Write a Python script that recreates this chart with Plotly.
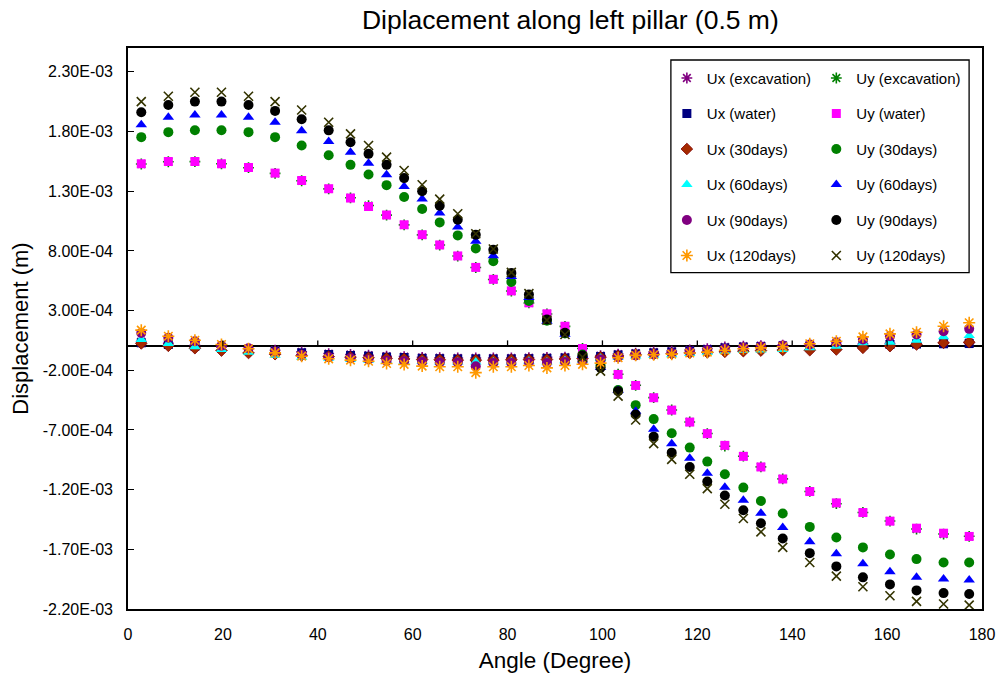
import plotly.graph_objects as go

# ---------------- data ----------------
ANGLE = [2.8, 8.5, 14.1, 19.7, 25.4, 31.0, 36.6, 42.3,
         46.9, 50.7, 54.5, 58.2, 62.0, 65.7, 69.5, 73.3, 77.0, 80.8, 84.5, 88.3,
         92.1, 95.8, 99.6, 103.3, 107.0, 110.8, 114.6, 118.4, 122.1, 125.8, 129.7, 133.4,
         138.0, 143.7, 149.3, 154.9, 160.6, 166.2, 171.9, 177.3]

UX_EXC = [0.040e-3, 0.025e-3, 0.010e-3, -0.004e-3, -0.018e-3, -0.032e-3, -0.046e-3, -0.060e-3,
          -0.068e-3, -0.074e-3, -0.082e-3, -0.085e-3, -0.092e-3, -0.095e-3, -0.097e-3, -0.097e-3,
          -0.097e-3, -0.097e-3, -0.095e-3, -0.092e-3, -0.089e-3, -0.085e-3, -0.077e-3, -0.064e-3,
          -0.056e-3, -0.047e-3, -0.039e-3, -0.030e-3, -0.018e-3, -0.005e-3, 0.002e-3, 0.007e-3,
          0.010e-3, 0.010e-3, 0.016e-3, 0.020e-3, 0.024e-3, 0.028e-3, 0.030e-3, 0.032e-3]
UY_EXC = [1.528e-3, 1.547e-3, 1.548e-3, 1.530e-3, 1.497e-3, 1.450e-3, 1.388e-3, 1.320e-3,
          1.245e-3, 1.180e-3, 1.100e-3, 1.018e-3, 0.934e-3, 0.849e-3, 0.757e-3, 0.661e-3,
          0.561e-3, 0.464e-3, 0.364e-3, 0.272e-3, 0.168e-3, -0.017e-3, -0.117e-3, -0.233e-3,
          -0.326e-3, -0.429e-3, -0.533e-3, -0.633e-3, -0.730e-3, -0.836e-3, -0.920e-3, -1.009e-3,
          -1.110e-3, -1.215e-3, -1.318e-3, -1.391e-3, -1.463e-3, -1.530e-3, -1.572e-3, -1.591e-3]
UX_WATER = [0.030e-3, 0.016e-3, 0.002e-3, -0.012e-3, -0.026e-3, -0.040e-3, -0.054e-3, -0.068e-3,
            -0.076e-3, -0.082e-3, -0.090e-3, -0.093e-3, -0.100e-3, -0.103e-3, -0.105e-3, -0.105e-3,
            -0.105e-3, -0.105e-3, -0.103e-3, -0.100e-3, -0.097e-3, -0.093e-3, -0.085e-3, -0.072e-3,
            -0.064e-3, -0.055e-3, -0.047e-3, -0.038e-3, -0.026e-3, -0.013e-3, -0.006e-3, -0.001e-3,
            0.002e-3, 0.002e-3, 0.008e-3, 0.012e-3, 0.016e-3, 0.020e-3, 0.022e-3, 0.024e-3]
UY_WATER = [1.530e-3, 1.549e-3, 1.549e-3, 1.530e-3, 1.499e-3, 1.452e-3, 1.390e-3, 1.321e-3,
            1.243e-3, 1.172e-3, 1.101e-3, 1.019e-3, 0.936e-3, 0.850e-3, 0.758e-3, 0.662e-3,
            0.562e-3, 0.465e-3, 0.365e-3, 0.273e-3, 0.169e-3, -0.018e-3, -0.118e-3, -0.235e-3,
            -0.327e-3, -0.430e-3, -0.534e-3, -0.634e-3, -0.731e-3, -0.829e-3, -0.921e-3, -1.010e-3,
            -1.111e-3, -1.216e-3, -1.311e-3, -1.392e-3, -1.464e-3, -1.523e-3, -1.565e-3, -1.592e-3]
UX_30 = [0.025e-3, 0.005e-3, -0.015e-3, -0.035e-3, -0.055e-3, -0.065e-3, -0.075e-3, -0.085e-3,
         -0.090e-3, -0.095e-3, -0.100e-3, -0.105e-3, -0.110e-3, -0.112e-3, -0.115e-3, -0.115e-3,
         -0.115e-3, -0.112e-3, -0.110e-3, -0.110e-3, -0.105e-3, -0.100e-3, -0.090e-3, -0.080e-3,
         -0.070e-3, -0.065e-3, -0.060e-3, -0.055e-3, -0.050e-3, -0.045e-3, -0.040e-3, -0.035e-3,
         -0.030e-3, -0.032e-3, -0.026e-3, -0.012e-3, 0.002e-3, 0.016e-3, 0.030e-3, 0.035e-3]
UY_30 = [1.753e-3, 1.795e-3, 1.811e-3, 1.811e-3, 1.795e-3, 1.753e-3, 1.683e-3, 1.602e-3,
         1.521e-3, 1.440e-3, 1.351e-3, 1.251e-3, 1.151e-3, 1.039e-3, 0.930e-3, 0.821e-3,
         0.713e-3, 0.540e-3, 0.380e-3, 0.215e-3, 0.108e-3, -0.068e-3, -0.160e-3, -0.366e-3,
         -0.492e-3, -0.609e-3, -0.728e-3, -0.848e-3, -0.965e-3, -1.071e-3, -1.183e-3, -1.295e-3,
         -1.400e-3, -1.512e-3, -1.601e-3, -1.684e-3, -1.743e-3, -1.782e-3, -1.810e-3, -1.810e-3]
UX_60 = [0.058e-3, 0.024e-3, -0.003e-3, -0.026e-3, -0.048e-3, -0.075e-3, -0.090e-3, -0.100e-3,
         -0.110e-3, -0.115e-3, -0.120e-3, -0.125e-3, -0.125e-3, -0.130e-3, -0.130e-3, -0.130e-3,
         -0.130e-3, -0.130e-3, -0.125e-3, -0.130e-3, -0.120e-3, -0.115e-3, -0.100e-3, -0.090e-3,
         -0.080e-3, -0.075e-3, -0.070e-3, -0.060e-3, -0.050e-3, -0.040e-3, -0.035e-3, -0.030e-3,
         -0.026e-3, -0.012e-3, 0.002e-3, 0.030e-3, 0.035e-3, 0.052e-3, 0.080e-3, 0.091e-3]
UY_60 = [1.856e-3, 1.920e-3, 1.939e-3, 1.939e-3, 1.920e-3, 1.878e-3, 1.806e-3, 1.716e-3,
         1.627e-3, 1.535e-3, 1.438e-3, 1.340e-3, 1.234e-3, 1.117e-3, 1.000e-3, 0.880e-3,
         0.760e-3, 0.585e-3, 0.409e-3, 0.210e-3, 0.102e-3, -0.076e-3, -0.176e-3, -0.369e-3,
         -0.544e-3, -0.695e-3, -0.815e-3, -0.937e-3, -1.063e-3, -1.180e-3, -1.289e-3, -1.397e-3,
         -1.517e-3, -1.637e-3, -1.738e-3, -1.821e-3, -1.888e-3, -1.935e-3, -1.949e-3, -1.958e-3]
UX_90 = [0.113e-3, 0.072e-3, 0.043e-3, 0.005e-3, -0.015e-3, -0.045e-3, -0.070e-3, -0.090e-3,
         -0.100e-3, -0.110e-3, -0.120e-3, -0.125e-3, -0.130e-3, -0.135e-3, -0.135e-3, -0.166e-3,
         -0.140e-3, -0.140e-3, -0.135e-3, -0.140e-3, -0.130e-3, -0.125e-3, -0.110e-3, -0.090e-3,
         -0.075e-3, -0.065e-3, -0.055e-3, -0.045e-3, -0.030e-3, -0.020e-3, -0.010e-3, 0.000e-3,
         0.008e-3, 0.016e-3, 0.035e-3, 0.058e-3, 0.085e-3, 0.100e-3, 0.127e-3, 0.147e-3]
UY_90 = [1.962e-3, 2.023e-3, 2.051e-3, 2.051e-3, 2.023e-3, 1.973e-3, 1.903e-3, 1.810e-3,
         1.711e-3, 1.613e-3, 1.521e-3, 1.410e-3, 1.300e-3, 1.178e-3, 1.061e-3, 0.936e-3,
         0.810e-3, 0.616e-3, 0.434e-3, 0.225e-3, 0.114e-3, -0.076e-3, -0.179e-3, -0.375e-3,
         -0.570e-3, -0.756e-3, -0.890e-3, -1.010e-3, -1.132e-3, -1.249e-3, -1.372e-3, -1.481e-3,
         -1.609e-3, -1.732e-3, -1.843e-3, -1.935e-3, -1.994e-3, -2.044e-3, -2.067e-3, -2.075e-3]
UX_120 = [0.136e-3, 0.085e-3, 0.052e-3, 0.016e-3, -0.020e-3, -0.054e-3, -0.082e-3, -0.104e-3,
          -0.115e-3, -0.124e-3, -0.143e-3, -0.151e-3, -0.165e-3, -0.170e-3, -0.170e-3, -0.220e-3,
          -0.170e-3, -0.170e-3, -0.160e-3, -0.180e-3, -0.160e-3, -0.150e-3, -0.140e-3, -0.095e-3,
          -0.075e-3, -0.070e-3, -0.065e-3, -0.055e-3, -0.048e-3, -0.032e-3, -0.020e-3, -0.012e-3,
          -0.003e-3, 0.022e-3, 0.043e-3, 0.080e-3, 0.105e-3, 0.119e-3, 0.169e-3, 0.198e-3]
UY_120 = [2.051e-3, 2.096e-3, 2.129e-3, 2.129e-3, 2.096e-3, 2.051e-3, 1.981e-3, 1.878e-3,
          1.780e-3, 1.683e-3, 1.586e-3, 1.474e-3, 1.354e-3, 1.234e-3, 1.111e-3, 0.944e-3,
          0.816e-3, 0.620e-3, 0.442e-3, 0.220e-3, 0.100e-3, -0.090e-3, -0.207e-3, -0.416e-3,
          -0.617e-3, -0.815e-3, -0.946e-3, -1.071e-3, -1.191e-3, -1.322e-3, -1.442e-3, -1.554e-3,
          -1.684e-3, -1.810e-3, -1.924e-3, -2.014e-3, -2.089e-3, -2.136e-3, -2.158e-3, -2.167e-3]

X_TICKS = [0, 20, 40, 60, 80, 100, 120, 140, 160, 180]
Y_TICKS = [-2.2e-3, -1.7e-3, -1.2e-3, -0.7e-3, -0.2e-3, 0.3e-3, 0.8e-3, 1.3e-3, 1.8e-3, 2.3e-3]
Y_TICK_TEXT = ["%.2E" % v for v in Y_TICKS]

TITLE = "Diplacement along left pillar (0.5 m)"
X_TITLE = "Angle (Degree)"
Y_TITLE = "Displacement (m)"

# ---------------- series styles ----------------
SERIES = [
    ("Ux (excavation)", UX_EXC, "asterisk-open", "#800080", 9, "legend"),
    ("Uy (excavation)", UY_EXC, "asterisk-open", "#008000", 9, "legend2"),
    ("Ux (water)", UX_WATER, "square", "#000080", 9, "legend"),
    ("Uy (water)", UY_WATER, "square", "#FF00FF", 9, "legend2"),
    ("Ux (30days)", UX_30, "diamond", "#A52A00", 9, "legend"),
    ("Uy (30days)", UY_30, "circle", "#008000", 10, "legend2"),
    ("Ux (60days)", UX_60, "triangle-up", "#00FFFF", 10, "legend"),
    ("Uy (60days)", UY_60, "triangle-up", "#0000FF", 10, "legend2"),
    ("Ux (90days)", UX_90, "circle", "#800080", 10, "legend"),
    ("Uy (90days)", UY_90, "circle", "#000000", 10, "legend2"),
    ("Ux (120days)", UX_120, "asterisk-open", "#FF9900", 10, "legend"),
    ("Uy (120days)", UY_120, "x-thin-open", "#333300", 9, "legend2"),
]

FONT = "Liberation Sans, Arial, sans-serif"

fig = go.Figure()
for name, vals, sym, col, size, leg in SERIES:
    is_open = sym.endswith("-open")
    line = dict(color=col, width=1.6) if is_open else dict(
        color="#800000" if sym == "diamond" else col, width=0.8 if sym == "diamond" else 0)
    fig.add_trace(go.Scatter(
        x=ANGLE, y=vals, mode="markers", name=name,
        legend=leg, legendgroup=name,
        marker=dict(symbol=sym, color=col, size=size, line=line),
    ))

# small tick marks on the y=0 axis line (pointing up)
shapes = []
for t in X_TICKS[1:-1]:
    shapes.append(dict(type="line", xref="x", yref="y", ysizemode="pixel", yanchor=0,
                       x0=t, x1=t, y0=0, y1=6, line=dict(color="black", width=1.3)))
# legend frame
shapes.append(dict(type="rect", xref="paper", yref="paper",
                   x0=0.6357, x1=0.9849, y0=0.5996, y1=0.9786,
                   line=dict(color="black", width=1.3), fillcolor="white", layer="below"))

fig.update_layout(
    width=1007, height=681,
    margin=dict(l=128, r=17, t=48, b=71),
    paper_bgcolor="white", plot_bgcolor="white",
    font=dict(family=FONT, color="black", size=16),
    title=dict(text=TITLE, x=0.518, xref="paper", xanchor="center",
               y=1 - 20 / 681, yref="container", yanchor="middle",
               font=dict(size=26.5, family=FONT)),
    xaxis=dict(range=[0, 180], tickvals=X_TICKS, ticks="", showline=True, mirror=True,
               linecolor="black", linewidth=1.6, showgrid=False, zeroline=False,
               tickfont=dict(size=16), ticklabelstandoff=10,
               title=dict(text=X_TITLE, font=dict(size=22.5), standoff=10)),
    yaxis=dict(range=[-2.2e-3, 2.5e-3], tickvals=Y_TICKS, ticktext=Y_TICK_TEXT,
               ticks="inside", ticklen=6, tickwidth=1.3, tickcolor="black",
               showline=True, mirror=True, linecolor="black", linewidth=1.6,
               showgrid=False, zeroline=True, zerolinecolor="black", zerolinewidth=1.6,
               tickfont=dict(size=16), ticklabelstandoff=10,
               title=dict(text=Y_TITLE, font=dict(size=22), standoff=8)),
    legend=dict(x=0.631, y=0.9755, xanchor="left", yanchor="top", bgcolor="rgba(0,0,0,0)",
                font=dict(size=15), tracegroupgap=13, borderwidth=0),
    legend2=dict(x=0.806, y=0.9755, xanchor="left", yanchor="top", bgcolor="rgba(0,0,0,0)",
                 font=dict(size=15), tracegroupgap=13, borderwidth=0),
    shapes=shapes,
)

fig.write_html("out.html")
